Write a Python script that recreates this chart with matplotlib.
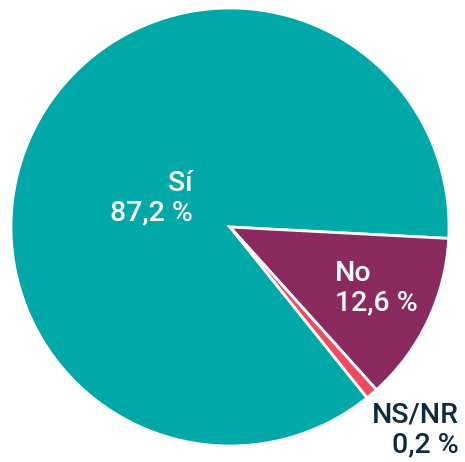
import matplotlib
matplotlib.use("Agg")
import matplotlib.pyplot as plt

categories = ["Sí", "No", "NS/NR"]
values = [87.2, 12.6, 0.2]
value_labels = ["87,2 %", "12,6 %", "0,2 %"]
colors = ["#00A8A8", "#8A2A5E", "#EE4B5E"]

# very small slices are drawn with a minimum visible share
min_share = 0.9
shown = [max(v, min_share) for v in values]

W, H = 465, 462
fig = plt.figure(figsize=(W / 100, H / 100), dpi=100)
ax = fig.add_axes([0, 0, 1, 1])

cx, cy, r = 230, H - 227, 219
ax.pie(shown, colors=colors, startangle=308.75, counterclock=False,
       center=(cx, cy), radius=r, frame=True,
       wedgeprops=dict(edgecolor="white", linewidth=2))
ax.set_xlim(0, W)
ax.set_ylim(0, H)
ax.set_aspect("equal")
ax.axis("off")

font = "Roboto"
fs = 20.5
kw = dict(fontsize=fs, family=font, fontweight="medium", linespacing=1.12)
ax.text(193, H - 198, f"{categories[0]}\n{value_labels[0]}", ha="right", va="center",
        multialignment="right", color="white", **kw)
ax.text(335, H - 288, f"{categories[1]}\n{value_labels[1]}", ha="left", va="center",
        multialignment="left", color="white", **kw)
ax.text(459, H - 430, f"{categories[2]}\n{value_labels[2]}", ha="right", va="center",
        multialignment="right", color="#0E2A3E", **kw)

fig.savefig("out.png", dpi=100)
